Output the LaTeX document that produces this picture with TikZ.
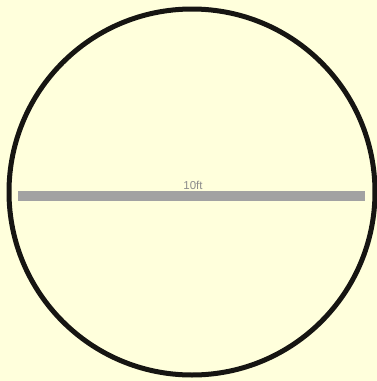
\documentclass[tikz,border=0pt]{standalone}
\usepackage{fontspec}
\setsansfont{Liberation Sans}
\usepackage{xcolor}
\definecolor{paper}{HTML}{FFFFDC}
\definecolor{rim}{HTML}{161512}
\definecolor{rod}{HTML}{A2A2A2}
\definecolor{tag}{HTML}{8C8C8C}

\begin{document}
\begin{tikzpicture}[x=1pt, y=-1pt, line join=round]
    % Page
    \fill[paper] (0,0) rectangle (377,381);
    \useasboundingbox (0,0) rectangle (377,381);
    % Outer rim
    \draw[rim, line width=5pt] (192,192) circle (183);
    % Diameter
    \coordinate (west) at (18,196);
    \coordinate (east) at (364.5,196);
    \draw[rod, line width=10pt] (west) -- (east);
    \node[tag, font=\sffamily\fontsize{11.5}{13}\selectfont, inner sep=0pt] (len) at (193,185) {10ft};
\end{tikzpicture}
\end{document}
